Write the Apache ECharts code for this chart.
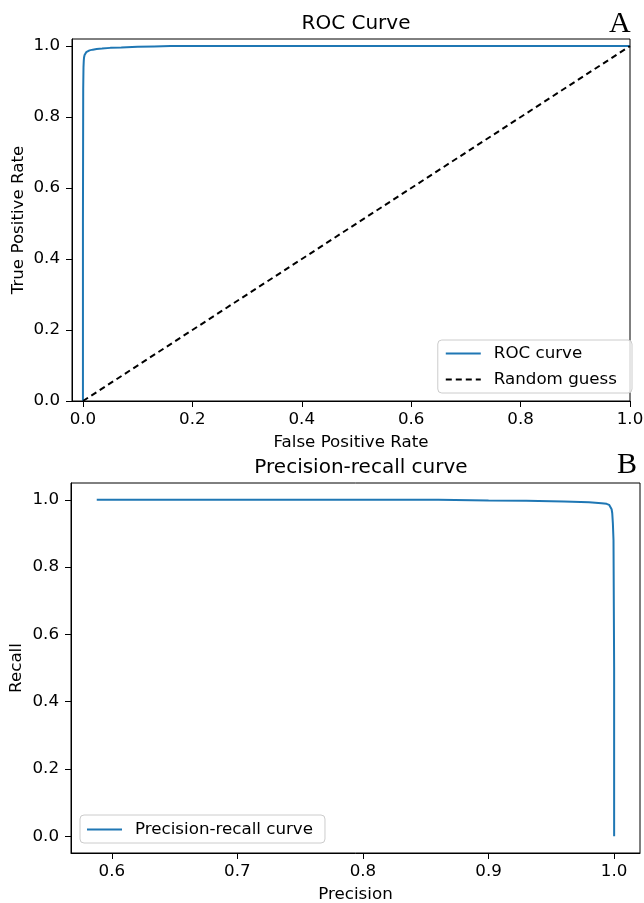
<!DOCTYPE html>
<html>
<head>
<meta charset="utf-8">
<script src="https://cdn.jsdelivr.net/npm/echarts@6/dist/echarts.min.js"></script>
<style>
html,body{margin:0;padding:0;background:#fff;}
#chart{width:644px;height:903px;}
</style>
</head>
<body>
<div id="chart"></div>
<script>
// ROC curve data (false positive rate, true positive rate)
const rocFpr = [0.0, 0.0, 0.0005, 0.001, 0.0015, 0.002, 0.003, 0.004, 0.006, 0.008, 0.012, 0.018, 0.025, 0.035, 0.05, 0.07, 0.1, 0.13, 0.16, 0.3, 0.5, 0.8, 1.0];
const rocTpr = [0.0, 0.5, 0.88, 0.94, 0.958, 0.968, 0.975, 0.979, 0.983, 0.986, 0.988, 0.990, 0.992, 0.993, 0.995, 0.996, 0.998, 0.999, 1.0, 1.0, 1.0, 1.0, 1.0];
// Random guess diagonal
const guessX = [0.0, 1.0];
const guessY = [0.0, 1.0];
// Precision-recall curve data
const prPrecision = [0.588, 0.7, 0.8, 0.86, 0.9, 0.93, 0.96, 0.98, 0.99, 0.994, 0.996, 0.997, 0.998, 0.9985, 0.999, 0.9995, 1.0, 1.0];
const prRecall    = [1.0, 1.0, 1.0, 1.0, 0.998, 0.997, 0.995, 0.993, 0.990, 0.988, 0.985, 0.981, 0.972, 0.960, 0.930, 0.88, 0.5, 0.0];
// Tick labels
const rocXTicks = [0.0, 0.2, 0.4, 0.6, 0.8, 1.0];
const rocYTicks = [0.0, 0.2, 0.4, 0.6, 0.8, 1.0];
const prXTicks = [0.6, 0.7, 0.8, 0.9, 1.0];
const prYTicks = [0.0, 0.2, 0.4, 0.6, 0.8, 1.0];

const zip = (a, b) => a.map((v, i) => [v, b[i]]);
const FONT = 'DejaVu Sans';
const BLUE = '#1f77b4';
const FS = 16.7;

function valAxis(gi, min, max, ticks, name, gap, isY) {
  return {
    type: 'value', gridIndex: gi, min: min, max: max,
    name: name, nameLocation: 'middle', nameGap: gap, nameMoveOverlap: false,
    nameTextStyle: {fontFamily: FONT, fontSize: FS, color: '#000'},
    splitLine: {show: false},
    axisLine: {show: true, onZero: false, lineStyle: {color: '#000', width: 1}},
    axisTick: {show: true, inside: false, length: 6, customValues: ticks, lineStyle: {color: '#000', width: 1}},
    axisLabel: {show: true, margin: isY ? 12 : 10, customValues: ticks, fontFamily: FONT, fontSize: FS, color: '#000',
      formatter: v => Number(v).toFixed(1)},
    minorTick: {show: false}
  };
}

const legendCommon = {
  orient: 'vertical',
  backgroundColor: 'rgba(255,255,255,0.8)', borderColor: '#cccccc', borderWidth: 1, borderRadius: 4,
  itemGap: 9, itemWidth: 35, itemHeight: 17,
  itemStyle: {opacity: 0, borderWidth: 0},
  textStyle: {fontFamily: FONT, fontSize: FS, color: '#000', padding: [0, 0, 0, 8]}
};

const chart = echarts.init(document.getElementById('chart'), null, {renderer: 'canvas'});
chart.setOption({
  animation: false,
  backgroundColor: '#fff',
  title: [
    {text: 'ROC Curve', left: 351, top: 9, textAlign: 'center', textStyle: {fontFamily: FONT, fontSize: 20, fontWeight: 'normal', color: '#000'}},
    {text: 'A', left: 604, top: 4, textStyle: {fontFamily: 'Liberation Serif', fontSize: 30, fontWeight: 'normal', color: '#000'}},
    {text: 'Precision-recall curve', left: 356, top: 453, textAlign: 'center', textStyle: {fontFamily: FONT, fontSize: 20, fontWeight: 'normal', color: '#000'}},
    {text: 'B', left: 612, top: 445, textStyle: {fontFamily: 'Liberation Serif', fontSize: 30, fontWeight: 'normal', color: '#000'}}
  ],
  grid: [
    {left: 72, top: 39, width: 558, height: 362, show: true, borderColor: '#000', borderWidth: 1, containLabel: false, outerBoundsMode: 'none'},
    {left: 71, top: 483, width: 569, height: 370, show: true, borderColor: '#000', borderWidth: 1, containLabel: false, outerBoundsMode: 'none'}
  ],
  legend: [
    Object.assign({}, legendCommon, {data: ['ROC curve', 'Random guess'], right: 12, top: 340, padding: [5, 15, 5, 7]}),
    Object.assign({}, legendCommon, {data: ['Precision-recall curve'], left: 80, top: 815, padding: [6, 12, 5, 6]})
  ],
  xAxis: [
    valAxis(0, -0.02, 1.0, rocXTicks, 'False Positive Rate', 33, false),
    valAxis(1, 0.5675, 1.0206, prXTicks, 'Precision', 33, false)
  ],
  yAxis: [
    valAxis(0, 0.0, 1.02, rocYTicks, 'True Positive Rate', 45, true),
    valAxis(1, -0.05, 1.05, prYTicks, 'Recall', 46, true)
  ],
  series: [
    {name: 'ROC curve', type: 'line', xAxisIndex: 0, yAxisIndex: 0, data: zip(rocFpr, rocTpr),
      symbol: 'none', showSymbol: false, smooth: false, lineStyle: {color: BLUE, width: 2}, itemStyle: {color: BLUE}},
    {name: 'Random guess', type: 'line', xAxisIndex: 0, yAxisIndex: 0, data: zip(guessX, guessY),
      symbol: 'none', showSymbol: false, lineStyle: {color: '#000', width: 2, type: [6, 4]}, itemStyle: {color: '#000'}},
    {name: 'Precision-recall curve', type: 'line', xAxisIndex: 1, yAxisIndex: 1, data: zip(prPrecision, prRecall),
      symbol: 'none', showSymbol: false, smooth: false, lineStyle: {color: BLUE, width: 2}, itemStyle: {color: BLUE}}
  ]
});
</script>
</body>
</html>
